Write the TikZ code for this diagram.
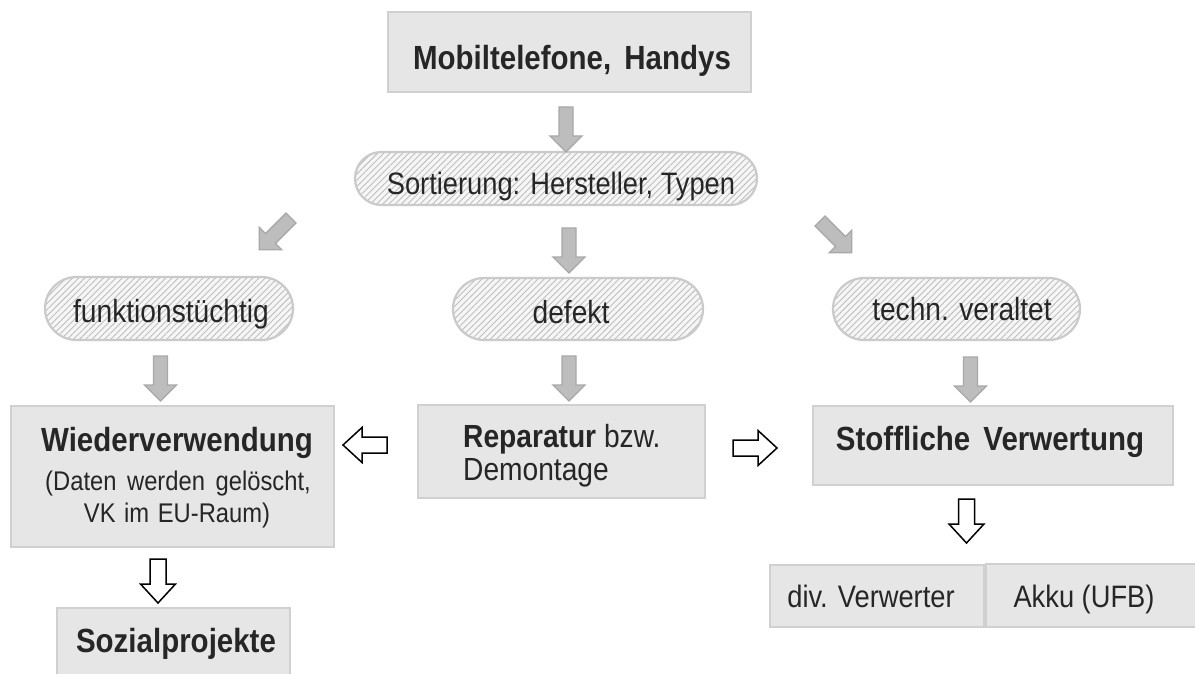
\documentclass[tikz,border=0pt]{standalone}
\usepackage{fontspec}
\setmainfont{Liberation Sans}[FakeStretch=0.88]
\usetikzlibrary{shapes.misc,patterns.meta}
\definecolor{boxfill}{HTML}{E6E6E7}
\definecolor{boxline}{HTML}{D0D0D0}
\definecolor{pillbg}{HTML}{F6F6F6}
\definecolor{pillline}{HTML}{CACACA}
\definecolor{hatch}{HTML}{BEBEBE}
\definecolor{garrowfill}{HTML}{BDBDBD}
\definecolor{garrowline}{HTML}{A8A8A8}
\definecolor{txt}{HTML}{262626}
\begin{document}
\begin{tikzpicture}[x=1pt,y=-1pt,
  box/.style={rectangle, draw=boxline, line width=2pt, fill=boxfill, inner sep=0pt},
  pill/.style={rounded rectangle, draw=pillline, line width=2.2pt, inner sep=0pt,
    preaction={fill=pillbg},
    pattern={Lines[angle=45,distance=4.4pt,line width=0.9pt]}, pattern color=hatch},
  garr/.pic={\draw[draw=garrowline, fill=garrowfill, line width=1.3pt, line join=miter]
    (0,-7) -- (29,-7) -- (29,-16) -- (45,0) -- (29,16) -- (29,7) -- (0,7) -- cycle;},
  warr/.pic={\draw[draw=black, fill=white, line width=1.5pt, line join=miter]
    (0,-8) -- (25,-8) -- (25,-17.5) -- (44,0) -- (25,17.5) -- (25,8) -- (0,8) -- cycle;},
  t/.style={text=txt, inner sep=0pt, anchor=base, font=\fontsize{32}{38}\selectfont},
  tb/.style={t, font=\fontsize{33.5}{40}\selectfont\bfseries},
  ts/.style={t, font=\fontsize{27}{32}\selectfont},
  tm/.style={t, font=\fontsize{31}{36}\selectfont},
]
\useasboundingbox (0,0) rectangle (1195,674);
\clip (0,0) rectangle (1195,674);
\fill[white] (0,0) rectangle (1195,674);

% boxes
\node[box, minimum width=363pt, minimum height=80pt] (top) at (569.5,52) {};
\node[box, minimum width=323pt, minimum height=141pt] (wieder) at (172.5,476.5) {};
\node[box, minimum width=287pt, minimum height=93pt] (rep) at (561.5,451.5) {};
\node[box, minimum width=360pt, minimum height=79pt] (stoff) at (993,445.5) {};
\node[box, minimum width=233pt, minimum height=82pt] (sozial) at (173.5,649) {};
\node[box, minimum width=214pt, minimum height=62pt] (div) at (877,596) {};
\node[box, minimum width=219pt, minimum height=63pt] (akku) at (1095.5,595.5) {};

% pills
\node[pill, minimum width=402pt, minimum height=53pt] (sort) at (556,178.5) {};
\node[pill, minimum width=248pt, minimum height=63pt] (funk) at (169,308.5) {};
\node[pill, minimum width=250pt, minimum height=62pt] (defekt) at (578,309) {};
\node[pill, minimum width=247pt, minimum height=62pt] (techn) at (956.5,309) {};

% texts
\node[tb] (topT) at (572,70) {Mobiltelefone,\hspace{5pt} Handys};
\node[t, font=\fontsize{31}{36}\selectfont] (sortT) at (561,194) {Sortierung: Hersteller, Typen};
\node[t] (funkT) at (171,322) {funktionstüchtig};
\node[t] (defektT) at (571,323) {defekt};
\node[t] (technT) at (962,320) {techn. veraltet};
\node[tb] (wiederT) at (177,451) {Wiederverwendung};
\node[ts] (wiederT2) at (178,490) {(Daten\hspace{4pt} werden\hspace{4pt} gelöscht,};
\node[ts] (wiederT3) at (177,522) {VK\hspace{2pt} im\hspace{2pt} EU-Raum)};
\node[t, anchor=base west] (repT) at (463,447) {\bfseries Reparatur\mdseries{} bzw.};
\node[t, anchor=base west] (repT2) at (463,480) {Demontage};
\node[tb] (stoffT) at (990,450) {Stoffliche\hspace{5pt} Verwertung};
\node[tb] (sozialT) at (176,652) {Sozialprojekte};
\node[tm] (divT) at (871,607) {div. Verwerter};
\node[tm] (akkuT) at (1084,607) {Akku (UFB)};

% gray block arrows (placed at their tail centre)
\pic[rotate=-90] (a1) at (566,107) {garr};
\pic[rotate=-90] (a2) at (569,228) {garr};
\pic[rotate=-90] (a3) at (569,356) {garr};
\pic[rotate=-90] (a4) at (160.5,356) {garr};
\pic[rotate=-90] (a5) at (970.5,357) {garr};
\pic[rotate=-135] (a6) at (291,218) {garr};
\pic[rotate=-45] (a7) at (820,221) {garr};

% white block arrows
\pic[rotate=180] (w1) at (387,445) {warr};
\pic (w2) at (733,448) {warr};
\pic[rotate=-90] (w3) at (158,559) {warr};
\pic[rotate=-90] (w4) at (966.5,499) {warr};
\end{tikzpicture}
\end{document}
